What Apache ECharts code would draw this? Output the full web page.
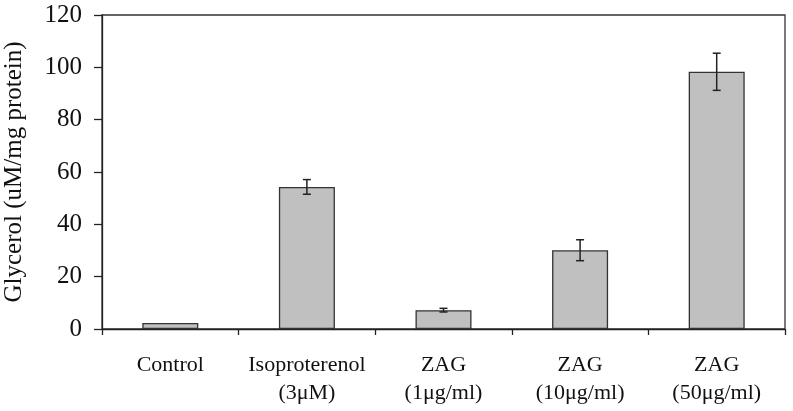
<!DOCTYPE html>
<html>
<head>
<meta charset="utf-8">
<script src="https://cdn.jsdelivr.net/npm/echarts@6/dist/echarts.min.js"></script>
<style>html,body{margin:0;padding:0;background:#fff}#c{width:793px;height:411px}</style>
</head>
<body>
<div id="c"></div>
<script>
const categories = ['Control', 'Isoproterenol\n(3μM)', 'ZAG\n(1μg/ml)', 'ZAG\n(10μg/ml)', 'ZAG\n(50μg/ml)'];
const means = [2.3, 54.3, 7.2, 30.1, 98.3];
const errors = [0, 2.8, 0.7, 4.0, 7.1];
const yTicks = [0, 20, 40, 60, 80, 100, 120];

const font = 'Liberation Serif';
const chart = echarts.init(document.getElementById('c'));
chart.setOption({
  animation: false,
  grid: { left: 102, right: 8, top: 15, bottom: 82, show: true, borderColor: '#333', borderWidth: 1.3, containLabel: false, outerBoundsMode: 'none' },
  xAxis: {
    type: 'category',
    data: categories,
    axisLine: { lineStyle: { color: '#222', width: 1.3 } },
    axisTick: { show: true, length: 6, lineStyle: { color: '#222', width: 1.3 } },
    axisLabel: { color: '#111', fontFamily: font, fontSize: 22, lineHeight: 28, margin: 22, interval: 0 }
  },
  yAxis: {
    type: 'value',
    min: yTicks[0], max: yTicks[yTicks.length - 1], interval: 20,
    name: 'Glycerol (uM/mg protein)',
    nameLocation: 'middle', nameGap: 75,
    nameTextStyle: { color: '#111', fontFamily: font, fontSize: 25 },
    axisLine: { show: true, lineStyle: { color: '#222', width: 1.3 } },
    axisTick: { show: true, length: 8, lineStyle: { color: '#222', width: 1.3 } },
    splitLine: { show: false },
    axisLabel: { color: '#111', fontFamily: font, fontSize: 25, margin: 20 }
  },
  series: [
    {
      type: 'bar',
      data: means,
      barWidth: '41%',
      itemStyle: { color: '#c0c0c0', borderColor: '#333', borderWidth: 1.3 }
    },
    {
      type: 'custom',
      data: means.map((m, i) => [i, m - errors[i], m + errors[i]]),
      renderItem: function (params, api) {
        if (errors[params.dataIndex] === 0) return null;
        const lo = api.coord([api.value(0), api.value(1)]);
        const hi = api.coord([api.value(0), api.value(2)]);
        const x = lo[0], hw = 4;
        const st = { stroke: '#222', lineWidth: 1.5 };
        return {
          type: 'group',
          children: [
            { type: 'line', shape: { x1: x, y1: lo[1], x2: x, y2: hi[1] }, style: st },
            { type: 'line', shape: { x1: x - hw, y1: lo[1], x2: x + hw, y2: lo[1] }, style: st },
            { type: 'line', shape: { x1: x - hw, y1: hi[1], x2: x + hw, y2: hi[1] }, style: st }
          ]
        };
      },
      z: 10
    }
  ]
});
</script>
</body>
</html>
